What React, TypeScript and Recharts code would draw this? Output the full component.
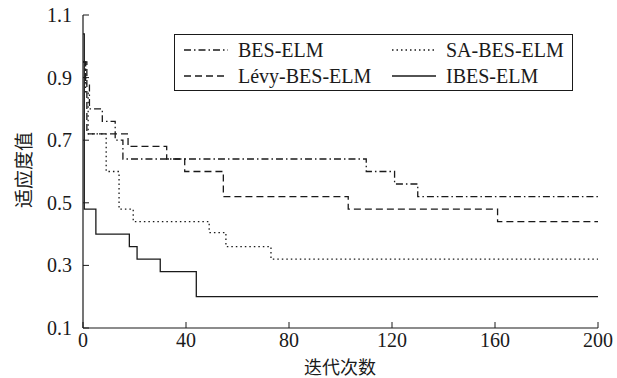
import { Label, Line, LineChart, XAxis, YAxis } from 'recharts'

// iteration where each value starts, and the fitness value
const besX = [0, 1, 2.5, 7.5, 12.5, 15.5, 110, 121, 130, 200]
const besY = [0.95, 0.88, 0.8, 0.76, 0.7, 0.64, 0.6, 0.56, 0.52, 0.52]

const levyX = [0, 1.5, 17.5, 32.5, 39.5, 54.5, 103, 161, 200]
const levyY = [0.95, 0.72, 0.68, 0.64, 0.6, 0.52, 0.48, 0.44, 0.44]

const saX = [0, 1, 2, 9, 14, 19.5, 49, 55.5, 73, 200]
const saY = [0.95, 0.85, 0.72, 0.6, 0.48, 0.44, 0.405, 0.36, 0.32, 0.32]

const ibesX = [0, 0.5, 5, 18, 21, 30, 44, 200]
const ibesY = [1.04, 0.48, 0.4, 0.36, 0.32, 0.28, 0.2, 0.2]

const xTicks = [0, 40, 80, 120, 160, 200]
const yTicks = [0.1, 0.3, 0.5, 0.7, 0.9, 1.1]

const toPoints = (xs: number[], ys: number[]) => xs.map((x, i) => ({ x, y: ys[i] }))

const INK = '#1a1a1a'
const SERIF = 'Liberation Serif, Times New Roman, Tinos, DejaVu Serif, serif'
const CJK = 'Noto Sans CJK SC, sans-serif'

const series = [
  { name: 'BES-ELM', data: toPoints(besX, besY), dash: '7 3 1.5 3' },
  { name: 'Lévy-BES-ELM', data: toPoints(levyX, levyY), dash: '7 4' },
  { name: 'SA-BES-ELM', data: toPoints(saX, saY), dash: '1.5 3' },
  { name: 'IBES-ELM', data: toPoints(ibesX, ibesY), dash: undefined },
]

function XTick(props: any) {
  const { x, y, payload } = props
  return (
    <g>
      <line x1={x} x2={x} y1={y} y2={y - 6} stroke={INK} />
      <text x={x} y={y + 19} textAnchor="middle" fontFamily={SERIF} fontSize={20} fill={INK}>
        {payload.value}
      </text>
    </g>
  )
}

function YTick(props: any) {
  const { x, y, payload } = props
  return (
    <g>
      <line x1={x} x2={x + 6} y1={y} y2={y} stroke={INK} />
      <text x={x - 11} y={y + 7} textAnchor="end" fontFamily={SERIF} fontSize={20} fill={INK}>
        {Number(payload.value).toFixed(1)}
      </text>
    </g>
  )
}

function LegendBox() {
  const item = (s: (typeof series)[number]) => (
    <div key={s.name} style={{ display: 'flex', alignItems: 'center', height: 24 }}>
      <svg width={46} height={10} style={{ marginRight: 8 }}>
        <line x1={0} x2={44} y1={5} y2={5} stroke={INK} strokeWidth={1.3} strokeDasharray={s.dash} />
      </svg>
      <span>{s.name}</span>
    </div>
  )
  return (
    <div
      style={{
        position: 'absolute',
        left: 174,
        top: 34,
        border: `1px solid ${INK}`,
        background: '#fff',
        boxSizing: 'border-box',
        width: 399,
        height: 57,
        padding: '3px 0 0 9px',
        display: 'grid',
        gridTemplateColumns: '208px 180px',
        fontFamily: SERIF,
        fontSize: 20,
        color: INK,
        lineHeight: '24px',
      }}
    >
      {item(series[0])}
      {item(series[2])}
      {item(series[1])}
      {item(series[3])}
    </div>
  )
}

export default function App() {
  return (
    <div style={{ position: 'absolute', left: 0, top: 0, width: 617, height: 378, background: '#fff' }}>
      <LineChart width={617} height={378} margin={{ top: 15, right: 19, left: 0, bottom: 0 }}>
        <XAxis
          dataKey="x"
          type="number"
          domain={[0, 200]}
          ticks={xTicks}
          allowDuplicatedCategory={false}
          height={50}
          tickSize={0}
          tickMargin={0}
          tickLine={false}
          tick={<XTick />}
          axisLine={{ stroke: INK, strokeWidth: 1.2 }}
        >
          <Label
            content={() => (
              <text x={340} y={374} textAnchor="middle" fontFamily={CJK} fontSize={18} fill={INK}>
                迭代次数
              </text>
            )}
          />
        </XAxis>
        <XAxis xAxisId="top" orientation="top" type="number" domain={[0, 200]} height={0} tick={false} tickLine={false} axisLine={{ stroke: INK, strokeWidth: 1.2 }} />
        <YAxis
          type="number"
          domain={[0.1, 1.1]}
          ticks={yTicks}
          width={83}
          tickSize={0}
          tickMargin={0}
          tickLine={false}
          tick={<YTick />}
          axisLine={{ stroke: INK, strokeWidth: 1.2 }}
        >
          <Label
            content={() => (
              <text
                x={22}
                y={170}
                transform="rotate(-90 22 170)"
                textAnchor="middle"
                dominantBaseline="central"
                fontFamily={CJK}
                fontSize={19}
                fill={INK}
              >
                适应度值
              </text>
            )}
          />
        </YAxis>
        <YAxis yAxisId="right" orientation="right" type="number" domain={[0.1, 1.1]} width={0} tick={false} tickLine={false} axisLine={{ stroke: INK, strokeWidth: 1.2 }} />
        {series.map((s) => (
          <Line
            key={s.name}
            name={s.name}
            data={s.data}
            dataKey="y"
            type="stepAfter"
            stroke={INK}
            strokeWidth={1.3}
            strokeDasharray={s.dash}
            dot={false}
            activeDot={false}
            isAnimationActive={false}
          />
        ))}
      </LineChart>
      <LegendBox />
    </div>
  )
}
